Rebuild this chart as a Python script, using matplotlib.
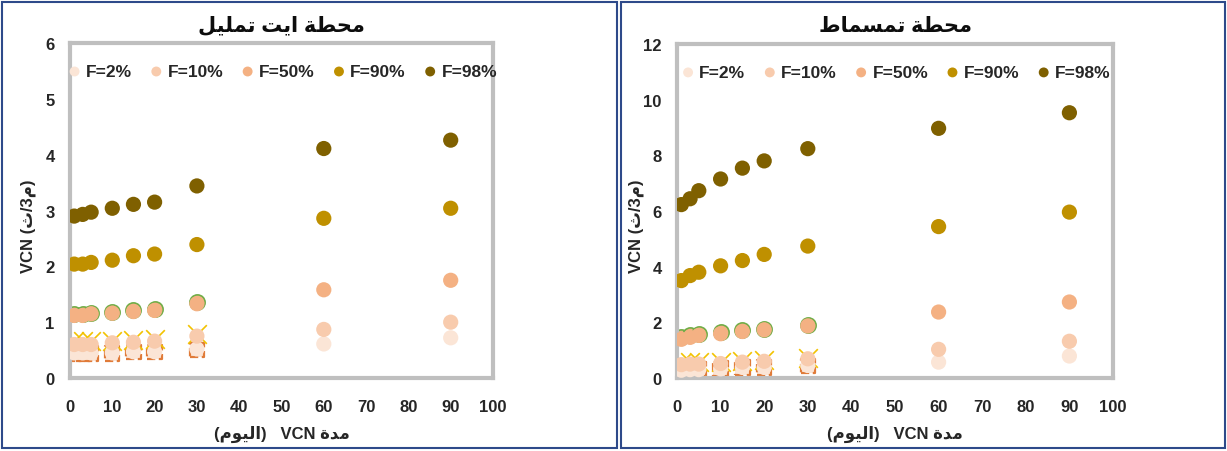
import matplotlib
matplotlib.use("Agg")
import matplotlib.pyplot as plt
from matplotlib.patches import Rectangle

plt.rcParams['font.family'] = ['Liberation Sans', 'DejaVu Sans']

# ---- data ----
days = [1, 3, 5, 10, 15, 20, 30, 60, 90]
days_short = [1, 3, 5, 10, 15, 20, 30]

# station Ait Tamlil
ait_f2 = [0.45, 0.45, 0.45, 0.45, 0.47, 0.47, 0.52, 0.61, 0.72]
ait_f10 = [0.60, 0.60, 0.60, 0.63, 0.64, 0.66, 0.75, 0.87, 1.00]
ait_f50 = [1.12, 1.12, 1.15, 1.16, 1.19, 1.21, 1.33, 1.58, 1.75]
ait_f90 = [2.04, 2.04, 2.07, 2.11, 2.19, 2.22, 2.39, 2.86, 3.04]
ait_f98 = [2.90, 2.93, 2.97, 3.04, 3.11, 3.15, 3.44, 4.11, 4.26]
# hidden series behind (not in legend)
ait_green = [1.14, 1.14, 1.17, 1.18, 1.21, 1.24, 1.36]
ait_cross = [0.66, 0.66, 0.66, 0.67, 0.68, 0.70, 0.78]
ait_square = [0.44, 0.44, 0.44, 0.44, 0.46, 0.46, 0.50]

# station Tamsmat
tam_f2 = [0.28, 0.30, 0.30, 0.33, 0.38, 0.38, 0.45, 0.57, 0.79]
tam_f10 = [0.48, 0.50, 0.50, 0.52, 0.57, 0.60, 0.69, 1.03, 1.32]
tam_f50 = [1.39, 1.46, 1.53, 1.59, 1.67, 1.73, 1.87, 2.37, 2.73]
tam_f90 = [3.50, 3.68, 3.80, 4.03, 4.22, 4.44, 4.74, 5.44, 5.96]
tam_f98 = [6.23, 6.44, 6.73, 7.15, 7.54, 7.80, 8.24, 8.97, 9.53]
tam_green = [1.46, 1.53, 1.58, 1.64, 1.71, 1.77, 1.92]
tam_cross = [0.54, 0.56, 0.56, 0.58, 0.62, 0.64, 0.72]
tam_square = [0.30, 0.32, 0.32, 0.34, 0.38, 0.38, 0.44]

labels = ['F=2%', 'F=10%', 'F=50%', 'F=90%', 'F=98%']
colors = ['#fbe5d6', '#f8cbad', '#f4b183', '#bf9000', '#7f6000']


# ---- simple arabic shaping (presentation forms, visual order) ----
FORMS = {
    'ا': ('\ufe8d', '\ufe8e', None, None),
    'د': ('\ufea9', '\ufeaa', None, None),
    'و': ('\ufeed', '\ufeee', None, None),
    'ة': ('\ufe93', '\ufe94', None, None),
    'ح': ('\ufea1', '\ufea2', '\ufea3', '\ufea4'),
    'ط': ('\ufec1', '\ufec2', '\ufec3', '\ufec4'),
    'م': ('\ufee1', '\ufee2', '\ufee3', '\ufee4'),
    'ت': ('\ufe95', '\ufe96', '\ufe97', '\ufe98'),
    'ث': ('\ufe99', '\ufe9a', '\ufe9b', '\ufe9c'),
    'ي': ('\ufef1', '\ufef2', '\ufef3', '\ufef4'),
    'ل': ('\ufedd', '\ufede', '\ufedf', '\ufee0'),
    'س': ('\ufeb1', '\ufeb2', '\ufeb3', '\ufeb4'),
}


def shape(txt):
    out = []
    for i, c in enumerate(txt):
        if c not in FORMS:
            out.append(c)
            continue
        prv = txt[i - 1] if i > 0 else ''
        nxt = txt[i + 1] if i < len(txt) - 1 else ''
        pj = prv in FORMS and FORMS[prv][2] is not None
        nj = nxt in FORMS and FORMS[c][2] is not None
        iso, fin, ini, med = FORMS[c]
        if pj and nj:
            out.append(med)
        elif pj:
            out.append(fin)
        elif nj:
            out.append(ini)
        else:
            out.append(iso)
    return ''.join(out[::-1])


xlab = '(' + shape('اليوم') + ')   VCN ' + shape('مدة')
ylab = 'VCN (' + shape('ث') + '/3' + shape('م') + ')'

fig = plt.figure(figsize=(12.27, 4.52), dpi=100)
W, H = 1227.0, 452.0

# panel borders
fig.patches.append(Rectangle((2 / W, 3 / H), 615 / W, 446 / H, transform=fig.transFigure,
                             fill=False, edgecolor='#2e4a8a', lw=1.5))
fig.patches.append(Rectangle((621 / W, 3 / H), 604 / W, 446 / H, transform=fig.transFigure,
                             fill=False, edgecolor='#2e4a8a', lw=1.5))


def panel(rect, title, ymax, ystep, f2, f10, f50, f90, f98, green, cross, square, ylab_x):
    ax = fig.add_axes(rect)
    ms = 120
    ax.scatter(days_short, square, marker='s', s=105, c='#fbe5d6', edgecolors='#e07b39',
               linewidths=1.6, linestyle='--', zorder=2)
    ax.scatter(days_short, cross, marker='x', s=180, c='#f2c200', linewidths=1.2, zorder=2)
    ax.scatter(days_short, green, marker='o', s=ms, c='#f4b183', edgecolors='#70ad47',
               linewidths=1.2, zorder=2)
    series = [f2, f10, f50, f90, f98]
    order = [1, 0, 2, 3, 4]
    for k in order:
        ax.scatter(days, series[k], s=ms, c=colors[k], edgecolors='none', zorder=3 + k,
                   label=labels[k])
    ax.set_xlim(0, 100)
    ax.set_ylim(0, ymax)
    ax.set_xticks(range(0, 101, 10))
    ax.set_yticks(range(0, ymax + 1, ystep))
    for sp in ax.spines.values():
        sp.set_color('#bfbfbf')
        sp.set_linewidth(3)
    ax.tick_params(length=0, labelsize=12, colors='#262626')
    ax.tick_params(axis='x', pad=15)
    ax.tick_params(axis='y', pad=11)
    for t in ax.get_xticklabels() + ax.get_yticklabels():
        t.set_fontweight('bold')
    h, l = ax.get_legend_handles_labels()
    hl = sorted(zip(l, h), key=lambda p: labels.index(p[0]))
    leg = ax.legend([p[1] for p in hl], [p[0] for p in hl], ncol=5, loc='center',
                    bbox_to_anchor=(0.5, 0.915), frameon=False, fontsize=12.5,
                    markerscale=0.65, handletextpad=0.15, columnspacing=0.9, handlelength=1.0)
    for t in leg.get_texts():
        t.set_fontweight('bold')
        t.set_color('#262626')
    ax.set_title(title, fontsize=15, fontweight='bold', pad=9, color='#0d0d0d')
    ax.set_xlabel(xlab, fontsize=12, fontweight='bold', labelpad=8, color='#262626')
    fig.text(ylab_x / W, 0.5, ylab, rotation=90, fontsize=12, fontweight='bold',
             color='#262626', ha='center', va='center')
    return ax


panel([70 / W, 73 / H, 423 / W, 335 / H], shape('محطة ايت تمليل'), 6, 1,
      ait_f2, ait_f10, ait_f50, ait_f90, ait_f98, ait_green, ait_cross, ait_square, 28)
panel([677 / W, 73 / H, 436 / W, 334 / H], shape('محطة تمسماط'), 12, 2,
      tam_f2, tam_f10, tam_f50, tam_f90, tam_f98, tam_green, tam_cross, tam_square, 636)

fig.savefig('out.png', dpi=100)
